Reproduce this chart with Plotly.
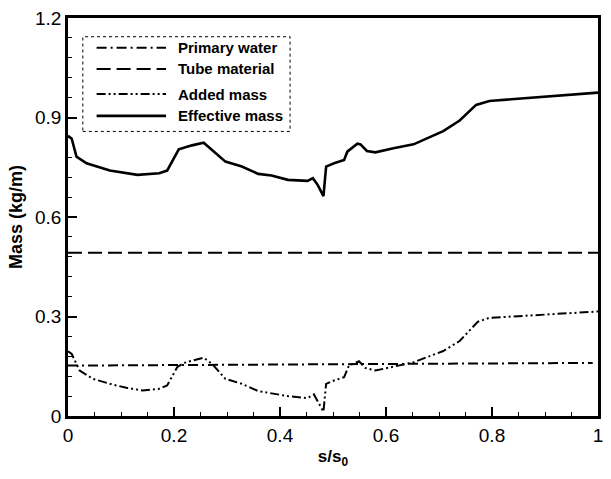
import plotly.graph_objects as go

# ---- data ----
s_primary = [0.0, 0.99]
m_primary = [0.152, 0.160]

s_tube = [0.0, 1.0]
m_tube = [0.492, 0.492]

s_added = [0.0, 0.007, 0.013, 0.022, 0.047, 0.079, 0.110, 0.141, 0.172, 0.187,
           0.206, 0.219, 0.234, 0.256, 0.272, 0.297, 0.328, 0.359, 0.415, 0.452,
           0.464, 0.471, 0.482, 0.487, 0.502, 0.521, 0.530, 0.549, 0.561, 0.580,
           0.614, 0.652, 0.708, 0.739, 0.773, 0.795, 1.0]
m_added = [0.195, 0.187, 0.167, 0.137, 0.112, 0.097, 0.085, 0.077, 0.082, 0.092,
           0.147, 0.160, 0.167, 0.176, 0.157, 0.112, 0.097, 0.075, 0.060, 0.054,
           0.065, 0.043, 0.013, 0.097, 0.107, 0.117, 0.152, 0.165, 0.145, 0.137,
           0.149, 0.162, 0.196, 0.226, 0.284, 0.296, 0.315]

s_eff = [0.0, 0.007, 0.016, 0.035, 0.079, 0.116, 0.131, 0.172, 0.187, 0.209,
         0.234, 0.256, 0.297, 0.328, 0.359, 0.384, 0.415, 0.452, 0.462, 0.471,
         0.482, 0.487, 0.502, 0.521, 0.527, 0.546, 0.552, 0.564, 0.580, 0.614,
         0.652, 0.708, 0.739, 0.770, 0.795, 1.0]
m_eff = [0.845, 0.836, 0.782, 0.762, 0.740, 0.732, 0.727, 0.732, 0.740, 0.804,
         0.816, 0.824, 0.767, 0.752, 0.730, 0.725, 0.712, 0.709, 0.717, 0.697,
         0.663, 0.752, 0.762, 0.772, 0.797, 0.821, 0.819, 0.799, 0.795, 0.807,
         0.819, 0.859, 0.891, 0.938, 0.950, 0.975]

series_names = ["Primary water", "Tube material", "Added mass", "Effective mass"]
x_ticks = [0, 0.2, 0.4, 0.6, 0.8, 1]
x_tick_labels = ["0", "0.2", "0.4", "0.6", "0.8", "1"]
y_ticks = [0, 0.3, 0.6, 0.9, 1.2]
y_tick_labels = ["0", "0.3", "0.6", "0.9", "1.2"]

# ---- styles ----
dash_primary = "10px,4px,2px,4px"
dash_tube = "14px,6px"
dash_added = "9px,3px,2px,3px,2px,3px"
styles = [
    dict(color="black", width=2, dash=dash_primary),
    dict(color="black", width=2, dash=dash_tube),
    dict(color="black", width=2, dash=dash_added),
    dict(color="black", width=2.6, dash="solid"),
]

fig = go.Figure()
for (sx, sy), name, st in zip(
    [(s_primary, m_primary), (s_tube, m_tube), (s_added, m_added), (s_eff, m_eff)],
    series_names, styles):
    fig.add_trace(go.Scatter(x=sx, y=sy, mode="lines", name=name, line=st,
                             showlegend=False))

FONT = "Liberation Sans, Arial, sans-serif"

fig.update_layout(
    width=611, height=479,
    margin=dict(l=68, r=8, t=13, b=63),
    plot_bgcolor="white", paper_bgcolor="white",
    font=dict(family=FONT, color="black"),
    xaxis=dict(range=[0, 1], tickvals=x_ticks, ticktext=x_tick_labels,
               ticks="inside", ticklen=9, tickwidth=2, tickcolor="black",
               minor=dict(dtick=0.05, ticks="inside", ticklen=4, tickwidth=1, tickcolor="black"),
               showgrid=False, zeroline=False, showline=True, linecolor="black",
               linewidth=2.5, mirror=True,
               tickfont=dict(size=19, family=FONT),
               title=dict(text="<b>s/s<sub>0</sub></b>", font=dict(size=17, family=FONT),
                          standoff=6)),
    yaxis=dict(range=[0, 1.2], tickvals=y_ticks, ticktext=y_tick_labels,
               ticks="inside", ticklen=9, tickwidth=2, tickcolor="black",
               minor=dict(dtick=0.06, ticks="inside", ticklen=4, tickwidth=1, tickcolor="black"),
               showgrid=False, zeroline=False, showline=True, linecolor="black",
               linewidth=2.5, mirror=True,
               tickfont=dict(size=19, family=FONT),
               title=dict(text="<b>Mass (kg/m)</b>", font=dict(size=18, family=FONT),
                          standoff=8)),
)

# ---- custom legend (dotted box, long line samples) ----
fig.add_shape(type="rect", xref="x domain", yref="y domain",
              x0=0.028, x1=0.419, y0=0.715, y1=0.953,
              line=dict(color="black", width=1, dash="dot"), fillcolor="white")
legend_y = [0.925, 0.872, 0.809, 0.754]
for name, st, ly in zip(series_names, styles, legend_y):
    fig.add_shape(type="line", xref="x domain", yref="y domain",
                  x0=0.054, x1=0.185, y0=ly, y1=ly, line=st)
    fig.add_annotation(xref="x domain", yref="y domain", x=0.204, y=ly,
                       text="<b>" + name + "</b>", showarrow=False,
                       xanchor="left", yanchor="middle",
                       font=dict(size=15, family=FONT, color="black"))

fig.write_html("out.html")
